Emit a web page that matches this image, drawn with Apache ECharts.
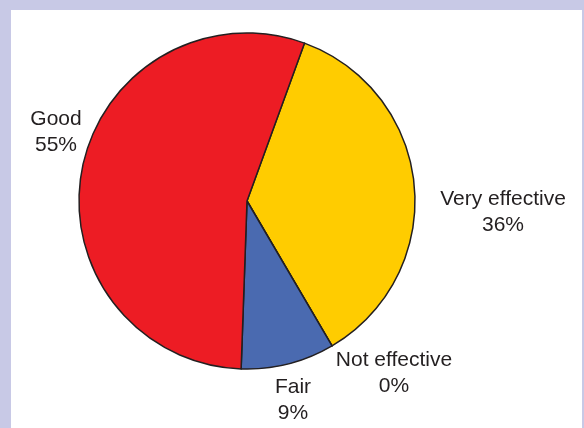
<!DOCTYPE html>
<html>
<head>
<meta charset="utf-8">
<script src="https://cdn.jsdelivr.net/npm/echarts@6/dist/echarts.min.js"></script>
<style>
  html, body { margin: 0; padding: 0; }
  body { width: 584px; height: 428px; background: #c8c9e6; position: relative; overflow: hidden; }
  #panel { position: absolute; left: 11px; top: 10px; width: 571px; height: 418px; background: #ffffff; }
  #chart { position: absolute; left: 0; top: 0; width: 584px; height: 428px; }
</style>
</head>
<body>
<div id="panel"></div>
<div id="chart"></div>
<script>
// Data
const categories = ['Very effective', 'Not effective', 'Fair', 'Good'];
const values = [36, 0, 9, 55];
const colors = ['#ffcc00', '#8a8a8a', '#4a6ab0', '#ed1c24'];

// Label positions (layout only)
const labelPos = [[503, 212], [394, 373], [293, 400], [56, 132]];

const chart = echarts.init(document.getElementById('chart'), null, { renderer: 'canvas' });
chart.setOption({
  animation: false,
  backgroundColor: 'transparent',
  series: [{
    type: 'pie',
    center: [247, 201],
    radius: 168,
    startAngle: 70,
    clockwise: true,
    avoidLabelOverlap: false,
    stillShowZeroSum: true,
    data: categories.map((c, i) => ({
      name: c,
      value: values[i],
      itemStyle: { color: colors[i] }
    })),
    itemStyle: { borderColor: '#231f20', borderWidth: 1.5 },
    emphasis: { disabled: true },
    label: {
      show: true,
      formatter: '{b}\n{c}%',
      fontFamily: 'Liberation Sans, Arial, Helvetica, sans-serif',
      fontSize: 21,
      lineHeight: 26,
      color: '#231f20',
      align: 'center'
    },
    labelLine: { show: false },
    labelLayout: function (params) {
      const p = labelPos[params.dataIndex];
      return { x: p[0], y: p[1], align: 'center', verticalAlign: 'middle' };
    }
  }]
});
</script>
</body>
</html>
